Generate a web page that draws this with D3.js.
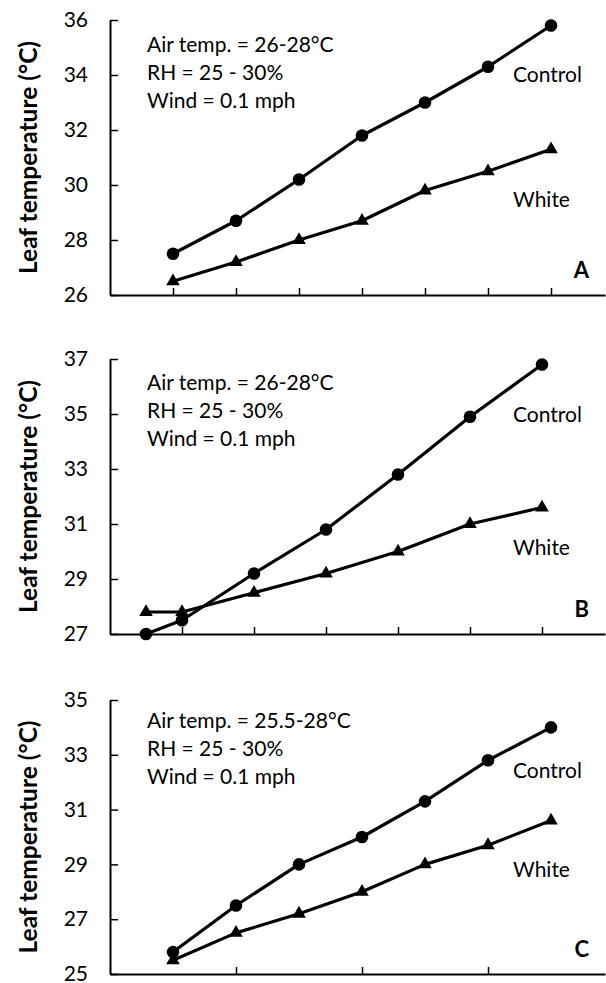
<!DOCTYPE html>
<html>
<head>
<meta charset="utf-8">
<script src="https://cdn.jsdelivr.net/npm/d3@7"></script>
<style>
  html, body { margin: 0; padding: 0; background: #fff; }
  svg { display: block; }
  text { font-family: Lato, "Open Sans", sans-serif; fill: #000; }
</style>
</head>
<body>
<svg id="chart" width="606" height="983"></svg>
<script>
// Leaf temperature over time, three trials (A, B, C): control vs. white-coated leaves
const xA = [1, 2, 3, 4, 5, 6, 7];
const controlA = [27.5, 28.7, 30.2, 31.8, 33.0, 34.3, 35.8];
const whiteA = [26.5, 27.2, 28.0, 28.7, 29.8, 30.5, 31.3];

const xB = [0.5, 1, 2, 3, 4, 5, 6];
const controlB = [27.0, 27.5, 29.2, 30.8, 32.8, 34.9, 36.8];
const whiteB = [27.8, 27.8, 28.5, 29.2, 30.0, 31.0, 31.6];

const xC = [1, 2, 3, 4, 5, 6, 7];
const controlC = [25.8, 27.5, 29.0, 30.0, 31.3, 32.8, 34.0];
const whiteC = [25.5, 26.5, 27.2, 28.0, 29.0, 29.7, 30.6];

const yTicksA = [26, 28, 30, 32, 34, 36];
const yTicksB = [27, 29, 31, 33, 35, 37];
const yTicksC = [25, 27, 29, 31, 33, 35];

const xTicksA = [1, 2, 3, 4, 5, 6, 7];
const xTicksB = [1, 2, 3, 4, 5, 6];
const xTicksC = [2, 4, 6];

const seriesNames = ["Control", "White"];
const panelLetters = ["A", "B", "C"];
const conditionsA = ["Air temp. = 26-28°C", "RH = 25 - 30%", "Wind = 0.1 mph"];
const conditionsB = ["Air temp. = 26-28°C", "RH = 25 - 30%", "Wind = 0.1 mph"];
const conditionsC = ["Air temp. = 25.5-28°C", "RH = 25 - 30%", "Wind = 0.1 mph"];
const yTitle = "Leaf temperature (°C)";

// Panel geometry
const left = 110, right = 605;
const panels = [
  { letter: panelLetters[0], x: xA, control: controlA, white: whiteA, yTicks: yTicksA, xTicks: xTicksA,
    xMax: 7.857, notes: conditionsA, top: 20, bottom: 295, noteDy: 32, ctrlDy: -213, whiteDy: -88 },
  { letter: panelLetters[1], x: xB, control: controlB, white: whiteB, yTicks: yTicksB, xTicks: xTicksB,
    xMax: 6.875, notes: conditionsB, top: 359, bottom: 634, noteDy: 31, ctrlDy: -212, whiteDy: -79 },
  { letter: panelLetters[2], x: xC, control: controlC, white: whiteC, yTicks: yTicksC, xTicks: xTicksC,
    xMax: 7.857, notes: conditionsC, top: 700, bottom: 974, noteDy: 28, ctrlDy: -196, whiteDy: -97 }
];

const svg = d3.select("#chart");
svg.append("rect").attr("width", 606).attr("height", 983).attr("fill", "#fff");

const triangle = d3.symbol().type(d3.symbolTriangle).size(80);

panels.forEach(p => {
  const yDomain = d3.extent(p.yTicks);
  const x = d3.scaleLinear().domain([0, p.xMax]).range([left, right]);
  const y = d3.scaleLinear().domain(yDomain).range([p.bottom, p.top]);
  const g = svg.append("g");

  // y axis, ticks pointing inward
  const yAxis = g.append("g")
    .attr("transform", `translate(${left},0)`)
    .call(d3.axisLeft(y).tickValues(p.yTicks).tickSizeInner(-8).tickSizeOuter(0).tickPadding(22));
  yAxis.select(".domain").attr("stroke", "#000").attr("stroke-width", 2);
  yAxis.selectAll(".tick line").attr("stroke", "#000").attr("stroke-width", 1.5);
  yAxis.selectAll(".tick text")
    .style("font-family", "Lato, 'Open Sans', sans-serif")
    .style("font-size", "21px").attr("fill", "#000");

  // x axis, unlabeled ticks pointing inward
  const xAxis = g.append("g")
    .attr("transform", `translate(0,${p.bottom})`)
    .call(d3.axisBottom(x).tickValues(p.xTicks).tickSizeInner(-7).tickSizeOuter(0).tickFormat(""));
  xAxis.select(".domain").attr("stroke", "#000").attr("stroke-width", 2);
  xAxis.selectAll(".tick line").attr("stroke", "#000").attr("stroke-width", 1.5);

  // y axis title
  g.append("text")
    .attr("transform", `translate(27,${(p.top + p.bottom) / 2}) rotate(-90)`)
    .attr("text-anchor", "middle")
    .attr("dominant-baseline", "central")
    .style("font-size", "24.5px")
    .style("font-weight", "bold")
    .text(yTitle);

  // series lines and markers
  const line = d3.line().x((d, i) => x(p.x[i])).y(d => y(d));
  [p.control, p.white].forEach(vals => {
    g.append("path")
      .datum(vals)
      .attr("d", line)
      .attr("fill", "none")
      .attr("stroke", "#000")
      .attr("stroke-width", 3.2)
      .attr("stroke-linejoin", "round");
  });
  g.selectAll(null).data(p.control).join("circle")
    .attr("cx", (d, i) => x(p.x[i]))
    .attr("cy", d => y(d))
    .attr("r", 6.3)
    .attr("fill", "#000");
  g.selectAll(null).data(p.white).join("path")
    .attr("d", triangle)
    .attr("transform", (d, i) => `translate(${x(p.x[i])},${y(d)})`)
    .attr("fill", "#000");

  // conditions note
  p.notes.forEach((t, i) => {
    g.append("text")
      .attr("x", 147)
      .attr("y", p.top + p.noteDy + i * 28)
      .style("font-size", "21px")
      .text(t);
  });

  // series labels
  g.append("text").attr("x", 513).attr("y", p.bottom + p.ctrlDy)
    .style("font-size", "21px").text(seriesNames[0]);
  g.append("text").attr("x", 513).attr("y", p.bottom + p.whiteDy)
    .style("font-size", "21px").text(seriesNames[1]);

  // panel letter
  g.append("text")
    .attr("x", 589).attr("y", p.bottom - 17)
    .attr("text-anchor", "end")
    .style("font-size", "22px")
    .style("font-weight", "bold")
    .text(p.letter);
});
</script>
</body>
</html>
